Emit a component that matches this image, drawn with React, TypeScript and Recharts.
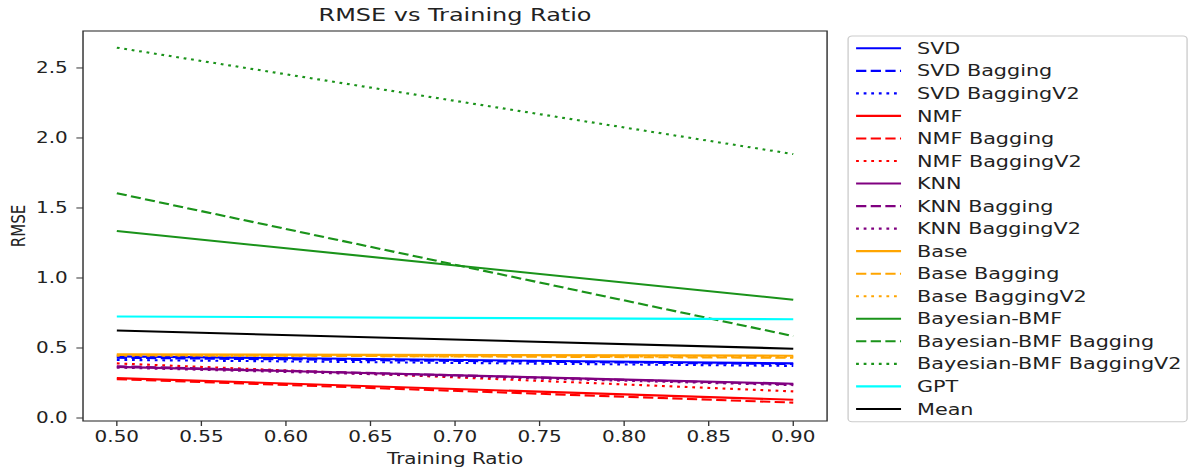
import React from "react";
import { LineChart, Line, XAxis, YAxis } from "recharts";

// training ratios on the x axis
const ratios = [0.5, 0.9];

// RMSE per method
const svd = [0.44, 0.39];
const svdBagging = [0.43, 0.385];
const svdBaggingV2 = [0.415, 0.372];
const nmf = [0.285, 0.13];
const nmfBagging = [0.278, 0.11];
const nmfBaggingV2 = [0.39, 0.19];
const knn = [0.365, 0.245];
const knnBagging = [0.37, 0.24];
const knnBaggingV2 = [0.36, 0.235];
const base = [0.455, 0.445];
const baseBagging = [0.45, 0.43];
const baseBaggingV2 = [0.445, 0.438];
const bmf = [1.335, 0.845];
const bmfBagging = [1.605, 0.585];
const bmfBaggingV2 = [2.645, 1.885];
const gpt = [0.725, 0.705];
const mean = [0.625, 0.495];

const xTicks = [0.5, 0.55, 0.6, 0.65, 0.7, 0.75, 0.8, 0.85, 0.9];
const yTicks = [0, 0.5, 1.0, 1.5, 2.0, 2.5];

const series = [
  { name: "SVD", values: svd, color: "#0000ff", style: "solid" },
  { name: "SVD Bagging", values: svdBagging, color: "#0000ff", style: "dashed" },
  { name: "SVD BaggingV2", values: svdBaggingV2, color: "#0000ff", style: "dotted" },
  { name: "NMF", values: nmf, color: "#ff0000", style: "solid" },
  { name: "NMF Bagging", values: nmfBagging, color: "#ff0000", style: "dashed" },
  { name: "NMF BaggingV2", values: nmfBaggingV2, color: "#ff0000", style: "dotted" },
  { name: "KNN", values: knn, color: "#800080", style: "solid" },
  { name: "KNN Bagging", values: knnBagging, color: "#800080", style: "dashed" },
  { name: "KNN BaggingV2", values: knnBaggingV2, color: "#800080", style: "dotted" },
  { name: "Base", values: base, color: "#ffa500", style: "solid" },
  { name: "Base Bagging", values: baseBagging, color: "#ffa500", style: "dashed" },
  { name: "Base BaggingV2", values: baseBaggingV2, color: "#ffa500", style: "dotted" },
  { name: "Bayesian-BMF", values: bmf, color: "#1a931a", style: "solid" },
  { name: "Bayesian-BMF Bagging", values: bmfBagging, color: "#1a931a", style: "dashed" },
  { name: "Bayesian-BMF BaggingV2", values: bmfBaggingV2, color: "#1a931a", style: "dotted" },
  { name: "GPT", values: gpt, color: "#00ffff", style: "solid" },
  { name: "Mean", values: mean, color: "#000000", style: "solid" },
];

const DASH: Record<string, string | undefined> = {
  solid: undefined,
  dashed: "7.7 3.3",
  dotted: "2.1 3.6",
};

const rows = ratios.map((r, i) => {
  const row: any = { ratio: r };
  series.forEach((s, k) => (row[`s${k}`] = s.values[i]));
  return row;
});

// the reference is stretched sideways, so draw narrow and scale x
const W = 893;
const H = 469;
const SX = 1188 / W;
const FONT = "'DejaVu Sans', sans-serif";
const PLOT = { left: 62.4, right: 621.7, top: 31, bottom: 421 };
const TEXT = "#222";

export default function App() {
  const midX = (PLOT.left + PLOT.right) / 2;
  return (
    <div
      style={{
        position: "absolute",
        left: 0,
        top: 0,
        width: W,
        height: H,
        transform: `scale(${SX},1)`,
        transformOrigin: "0 0",
        background: "#fff",
        fontFamily: FONT,
      }}
    >
      <LineChart
        width={W}
        height={H}
        data={rows}
        margin={{ top: PLOT.top, right: W - PLOT.right, bottom: 0, left: PLOT.left - 40 }}
      >
        <XAxis
          dataKey="ratio"
          type="number"
          domain={[0.48, 0.92]}
          allowDataOverflow
          ticks={xTicks}
          interval={0}
          tickFormatter={(v: number) => v.toFixed(2)}
          height={H - PLOT.bottom}
          axisLine={false}
          tickLine={{ stroke: "#333" }}
          tickSize={5}
          tickMargin={5}
          tick={{ fontSize: 15, fill: TEXT, fontFamily: FONT }}
        />
        <YAxis
          type="number"
          domain={[-0.0214, 2.764]}
          allowDataOverflow
          ticks={yTicks}
          interval={0}
          tickFormatter={(v: number) => v.toFixed(1)}
          width={40}
          axisLine={false}
          tickLine={{ stroke: "#333" }}
          tickSize={5}
          tickMargin={6.5}
          tick={{ fontSize: 15, fill: TEXT, fontFamily: FONT }}
        />
        {series.map((s, k) => (
          <Line
            key={s.name}
            dataKey={`s${k}`}
            name={s.name}
            stroke={s.color}
            strokeWidth={2.1}
            strokeDasharray={DASH[s.style]}
            dot={false}
            activeDot={false}
            isAnimationActive={false}
          />
        ))}
      </LineChart>
      <svg
        width={W}
        height={H}
        style={{ position: "absolute", left: 0, top: 0, pointerEvents: "none" }}
      >
        <rect
          x={PLOT.left}
          y={PLOT.top}
          width={PLOT.right - PLOT.left}
          height={PLOT.bottom - PLOT.top}
          fill="none"
          stroke="#333"
          strokeWidth={1.1}
        />
        <text x={midX} y={20.7} textAnchor="middle" fontSize={18} fill={TEXT} fontFamily={FONT}>
          RMSE vs Training Ratio
        </text>
        <text x={midX} y={464} textAnchor="middle" fontSize={15} fill={TEXT} fontFamily={FONT}>
          Training Ratio
        </text>
        <text
          transform={`translate(18.8, ${(PLOT.top + PLOT.bottom) / 2}) rotate(-90)`}
          textAnchor="middle"
          fontSize={15}
          fill={TEXT}
          fontFamily={FONT}
        >
          RMSE
        </text>

        {/* legend */}
        <rect x={637.5} y={36} width={254.8} height={385.7} rx={3} fill="#fff" stroke="#cccccc" strokeWidth={1} />
        {series.map((s, k) => {
          const cy = 48.3 + k * 22.54;
          return (
            <g key={s.name}>
              <line
                x1={643.5}
                x2={677.3}
                y1={cy}
                y2={cy}
                stroke={s.color}
                strokeWidth={2.1}
                strokeDasharray={DASH[s.style]}
              />
              <text x={689.3} y={cy + 5.6} fontSize={15.6} fill={TEXT} fontFamily={FONT}>
                {s.name}
              </text>
            </g>
          );
        })}
      </svg>
    </div>
  );
}
